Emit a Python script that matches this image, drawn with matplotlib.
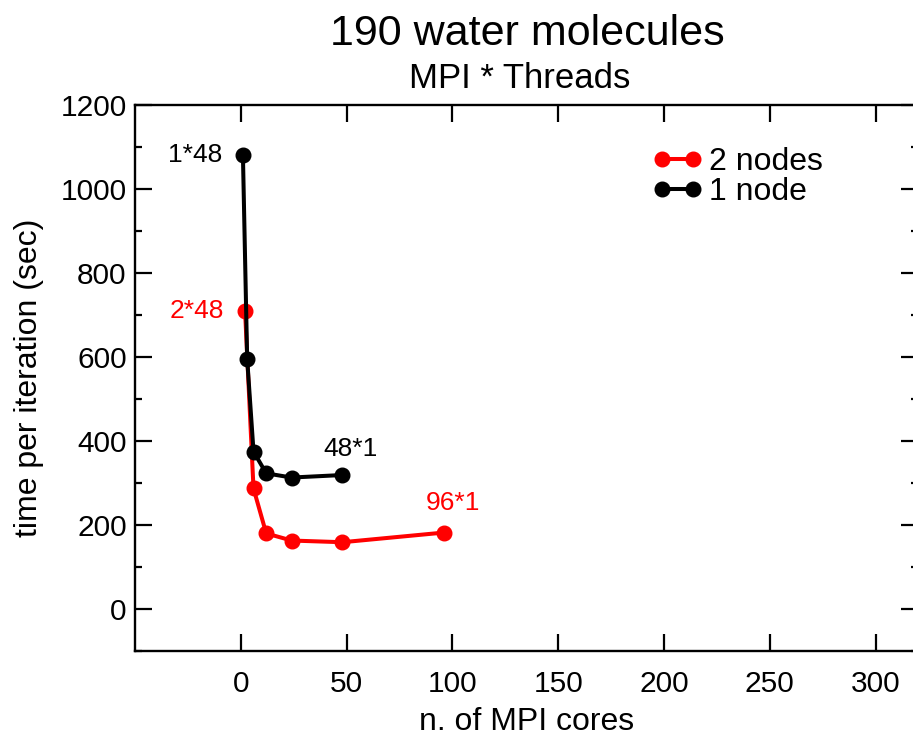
import matplotlib
matplotlib.use("Agg")
import matplotlib.pyplot as plt
from matplotlib.ticker import MultipleLocator

plt.rcParams['font.family'] = ['Liberation Sans', 'DejaVu Sans']

# Data
x_1node = [1, 3, 6, 12, 24, 48]
y_1node = [1080, 596, 375, 323, 313, 319]
x_2nodes = [2, 6, 12, 24, 48, 96]
y_2nodes = [710, 287, 180, 163, 159, 182]

title = "190 water molecules"
subtitle = "MPI * Threads"
xlabel = "n. of MPI cores"
ylabel = "time per iteration (sec)"

W, H = 913, 737
fig = plt.figure(figsize=(W / 100, H / 100), dpi=100)
left, right, top, bottom = 135, 918, 105, 651
ax = fig.add_axes([left / W, 1 - bottom / H, (right - left) / W, (bottom - top) / H])

ax.plot(x_2nodes, y_2nodes, color='#ff0000', lw=2.9, marker='o', ms=10.5, label='2 nodes', zorder=3)
ax.plot(x_1node, y_1node, color='black', lw=2.9, marker='o', ms=10.5, label='1 node', zorder=4)

ax.set_xlim(-50, 320)
ax.set_ylim(-100, 1200)
ax.set_xticks([0, 50, 100, 150, 200, 250, 300])
ax.set_yticks([0, 200, 400, 600, 800, 1000, 1200])
ax.yaxis.set_minor_locator(MultipleLocator(100))

ax.tick_params(which='both', direction='in', top=True, right=True, width=1.6, labelsize=21.5)
ax.tick_params(which='major', length=12, pad=6)
ax.tick_params(which='minor', length=5)
ax.tick_params(axis='x', which='major', pad=14)
for s in ax.spines.values():
    s.set_linewidth(1.7)

ax.set_xlabel(xlabel, fontsize=23, labelpad=6)
ax.set_ylabel(ylabel, fontsize=23, labelpad=12)

fig.text(527 / W, 1 - 45 / H, title, fontsize=31, ha='center', va='baseline')
fig.text(520 / W, 1 - 88 / H, subtitle, fontsize=25, ha='center', va='baseline')

ax.annotate("1*48", (x_1node[0], y_1node[0]), xytext=(-15, 0), textcoords='offset points',
            ha='right', va='center', fontsize=19, color='black')
ax.annotate("2*48", (x_2nodes[0], y_2nodes[0]), xytext=(-15, 0), textcoords='offset points',
            ha='right', va='center', fontsize=19, color='#ff0000')
ax.annotate("48*1", (x_1node[-1], y_1node[-1]), xytext=(6, 14), textcoords='offset points',
            ha='center', va='baseline', fontsize=19, color='black')
ax.annotate("96*1", (x_2nodes[-1], y_2nodes[-1]), xytext=(6.5, 16), textcoords='offset points',
            ha='center', va='baseline', fontsize=19, color='#ff0000')

leg = ax.legend(loc='upper left', bbox_to_anchor=(652 / W, 1 - 147 / H), bbox_transform=fig.transFigure,
                frameon=False, fontsize=23, numpoints=2, handlelength=1.57, handletextpad=0.2,
                labelspacing=0.0, borderaxespad=0, borderpad=0)

fig.savefig("out.png", dpi=100)
